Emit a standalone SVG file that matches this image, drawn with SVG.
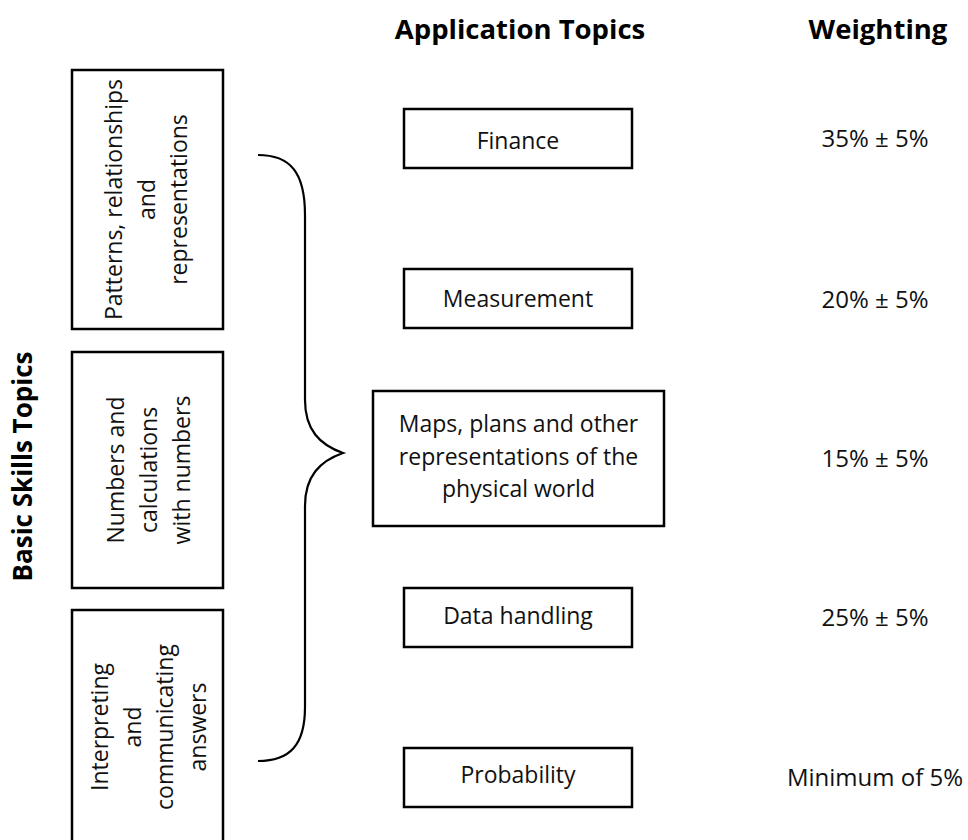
<svg xmlns="http://www.w3.org/2000/svg" width="968" height="840" viewBox="0 0 968 840">
<style>
  .box { fill: #fff; stroke: #000; stroke-width: 2.5; }
  .t { font-family: "Open Sans", "Liberation Sans", sans-serif; font-size: 23px; fill: #111; text-anchor: middle; }
  .w { font-family: "Open Sans", "Liberation Sans", sans-serif; font-size: 24px; fill: #111; text-anchor: middle; }
  .h { font-family: "Open Sans", "Liberation Sans", sans-serif; font-weight: bold; font-size: 27.5px; fill: #000; text-anchor: middle; }
  .brace { fill: none; stroke: #000; stroke-width: 2.2; }
</style>
<rect width="968" height="840" fill="#fff"/>

<g id="headers">
  <text class="h" x="520" y="39">Application Topics</text>
  <text class="h" x="878" y="39">Weighting</text>
  <text class="h" transform="translate(32,466.5) rotate(-90)" x="0" y="0" style="font-size:26px">Basic Skills Topics</text>
</g>

<g id="basic-patterns">
  <rect class="box" x="72" y="70" width="151" height="259"/>
  <g transform="translate(147.5,199.5) rotate(-90)">
    <text class="t" x="0" y="-25.5">Patterns, relationships</text>
    <text class="t" x="0" y="7.5">and</text>
    <text class="t" x="0" y="39.5">representations</text>
  </g>
</g>

<g id="basic-numbers">
  <rect class="box" x="72" y="352" width="151" height="236"/>
  <g transform="translate(147.5,470) rotate(-90)">
    <text class="t" x="0" y="-24">Numbers and</text>
    <text class="t" x="0" y="9">calculations</text>
    <text class="t" x="0" y="42">with numbers</text>
  </g>
</g>

<g id="basic-interpreting">
  <rect class="box" x="72" y="610" width="151" height="240"/>
  <g transform="translate(147.5,727) rotate(-90)">
    <text class="t" x="0" y="-39.5">Interpreting</text>
    <text class="t" x="0" y="-7">and</text>
    <text class="t" x="0" y="25.5">communicating</text>
    <text class="t" x="0" y="58">answers</text>
  </g>
</g>

<g id="connectors">
  <path class="brace" d="M258,155 C290,155 305,172 305,215 L305,400 C305,430 320,445 343,453 C320,461 305,476 305,506 L305,707 C305,745 290,761 258,761"/>
</g>

<g id="app-finance">
  <rect class="box" x="404" y="109" width="228" height="59"/>
  <text class="t" x="518" y="149">Finance</text>
</g>
<g id="app-measurement">
  <rect class="box" x="404" y="269" width="228" height="59"/>
  <text class="t" x="518" y="307">Measurement</text>
</g>
<g id="app-maps">
  <rect class="box" x="373" y="391" width="291" height="135"/>
  <text class="t" x="518.5" y="432">Maps, plans and other</text>
  <text class="t" x="518.5" y="464.5">representations of the</text>
  <text class="t" x="518.5" y="497">physical world</text>
</g>
<g id="app-data">
  <rect class="box" x="404" y="588" width="228" height="59"/>
  <text class="t" x="518" y="624">Data handling</text>
</g>
<g id="app-probability">
  <rect class="box" x="404" y="748" width="228" height="59"/>
  <text class="t" x="518" y="783">Probability</text>
</g>

<g id="weights">
  <text class="w" x="875" y="147">35% ± 5%</text>
  <text class="w" x="875" y="308">20% ± 5%</text>
  <text class="w" x="875" y="467">15% ± 5%</text>
  <text class="w" x="875" y="626">25% ± 5%</text>
  <text class="w" x="875" y="786">Minimum of 5%</text>
</g>
</svg>
